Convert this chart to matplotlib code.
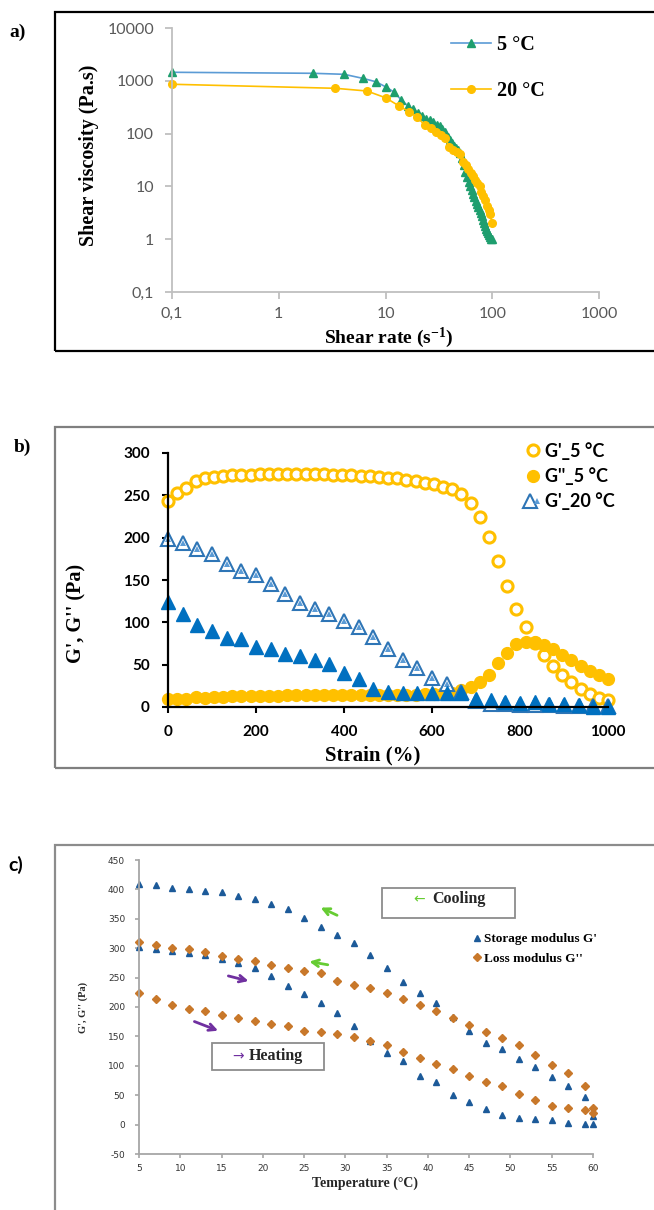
import matplotlib
matplotlib.use('Agg')
import matplotlib.pyplot as plt
from matplotlib.patches import Rectangle
from matplotlib.legend_handler import HandlerTuple
from matplotlib.ticker import NullLocator

# ---- a) flow curves ----
rate_5 = [0.1, 2.1, 4.1, 6.1, 8.1, 10.1, 12.1, 14.1, 16.1, 18.1, 20.1, 22.1, 24.1, 26.1,
          28.1, 30.1, 32.1, 34.1, 36.1, 38.1, 40.1, 42.1, 44.1, 46.1, 48.1, 50.1, 52.1,
          54.1, 56.1, 58.1, 60.1, 62.1, 64.1, 66.1, 68.1, 70.1, 72.1, 74.1, 76.1, 78.1,
          80.1, 82.1, 84.1, 86.1, 88.1, 90.1, 92.1, 94.1, 96.1, 98.1, 100]
visc_5 = [1450, 1387, 1327, 1115, 962, 764, 605, 430, 340, 290, 245, 215, 190, 178,
          165, 148, 138, 122, 105, 88, 75, 66, 59, 53, 48, 42, 34,
          25, 19, 15, 12.3, 10.3, 8.5, 7.3, 6.3, 5.3, 4.6, 4.0, 3.5, 3.1,
          2.7, 2.35, 2.0, 1.78, 1.58, 1.42, 1.3, 1.18, 1.08, 1.02, 1.0]
rate_20 = [0.1, 3.4, 6.7, 10.0, 13.3, 16.6, 19.9, 23.2, 26.5, 29.8, 33.1, 36.4, 39.7,
           43.0, 46.3, 49.6, 52.9, 56.2, 59.5, 62.8, 66.1, 69.4, 72.7, 76.0, 79.3,
           82.6, 85.9, 89.2, 92.5, 95.8, 99.1]
visc_20 = [860, 721, 641, 478, 337, 260, 203, 146, 126, 109, 94, 81, 55,
           49, 45, 41, 29, 25, 21, 18, 16, 13, 11.5, 10, 8,
           6.5, 5.5, 4.3, 3.5, 3.0, 2.0]

# ---- b) strain sweep ----
strain_5 = [0, 21, 42, 63, 83, 104, 125, 146, 167, 188, 208, 229, 250, 271, 292, 313, 333,
            354, 375, 396, 417, 438, 458, 479, 500, 521, 542, 563, 583, 604, 625, 646, 667,
            688, 708, 729, 750, 771, 792, 813, 833, 854, 875, 896, 917, 938, 958, 979, 1000]
gp_5 = [243, 253, 259, 267, 270, 272, 273, 274, 274, 274, 275, 275, 275, 275, 275, 275, 275,
        275, 274, 274, 274, 273, 273, 272, 271, 270, 268, 267, 265, 263, 260, 258, 252,
        241, 224, 201, 173, 143, 116, 95, 76, 61, 48, 38, 29, 21, 15, 11, 8]
gpp_5 = [9, 9, 10, 12, 11, 12, 12, 13, 13, 13, 13, 13, 13, 14, 14, 14, 14,
         14, 14, 14, 14, 14, 14, 14, 14, 14, 14, 14, 15, 15, 16, 17, 20,
         24, 29, 38, 52, 64, 74, 77, 77, 73, 68, 61, 55, 48, 43, 38, 33]
strain_20 = [0, 33, 67, 100, 133, 167, 200, 233, 267, 300, 333, 367, 400, 433, 467, 500,
             533, 567, 600, 633, 667, 700, 733, 767, 800, 833, 867, 900, 933, 967, 1000]
gp_20 = [199, 194, 187, 181, 169, 161, 156, 145, 133, 123, 116, 110, 101, 94, 83, 69,
         56, 46, 34, 27, 18, 7, 4, 3, 2, 2, 2, 1, 1, 1, 1]
gpp_20 = [124, 110, 97, 90, 81, 80, 71, 69, 63, 60, 56, 51, 40, 33, 21, 18,
          16, 16, 17, 16, 16, 9, 8, 6, 5, 6, 3.5, 3, 2.4, 0, 0]

# ---- c) temperature sweep ----
temps = [5, 7, 9, 11, 13, 15, 17, 19, 21, 23, 25, 27, 29, 31, 33, 35, 37, 39, 41, 43,
         45, 47, 49, 51, 53, 55, 57, 59, 60]
gs_cool = [409, 407, 403, 401, 397, 395, 389, 383, 375, 366, 352, 336, 322, 308, 289, 267,
           243, 223, 207, 183, 160, 139, 128, 112, 98, 81, 65, 47, 15]
gs_heat = [302, 299, 296, 292, 288, 282, 275, 267, 253, 236, 222, 207, 189, 167, 142, 122,
           108, 83, 73, 51, 38, 27, 17, 11, 10, 8, 3, 1, 1]
gl_cool = [310, 306, 300, 298, 294, 287, 282, 278, 271, 267, 261, 257, 244, 237, 232, 224,
           214, 204, 193, 182, 170, 157, 147, 135, 118, 102, 87, 65, 28]
gl_heat = [224, 214, 204, 197, 193, 187, 181, 177, 171, 167, 160, 157, 154, 149, 142, 135,
           123, 114, 103, 94, 83, 73, 65, 52, 41, 32, 28, 24, 20]

W, H = 654, 1210
SERIF = 'Liberation Serif'
plt.rcParams['mathtext.fontset'] = 'custom'
plt.rcParams['mathtext.rm'] = 'Liberation Serif:bold'
plt.rcParams['mathtext.default'] = 'rm'
plt.rcParams['axes.unicode_minus'] = False

fig = plt.figure(figsize=(W / 100, H / 100), dpi=100)


def fx(px):
    return px / W


def fy(py):
    return 1 - py / H


def axes_px(left, top, right, bottom):
    return fig.add_axes([left / W, 1 - bottom / H, (right - left) / W, (bottom - top) / H])


# panel frames
fig.add_artist(Rectangle((fx(55), fy(351)), 1, (351 - 12) / H, transform=fig.transFigure,
                         fill=False, ec='black', lw=1.6))
fig.add_artist(Rectangle((fx(55), fy(768)), 1, (768 - 427) / H, transform=fig.transFigure,
                         fill=False, ec='#7f7f7f', lw=1.6))
fig.add_artist(Rectangle((fx(55), -0.1), 1, fy(845) + 0.1, transform=fig.transFigure,
                         fill=False, ec='#8c8c8c', lw=1.6))

fig.text(fx(9), fy(32), 'a)', family=SERIF, weight='bold', size=14, va='center')
fig.text(fx(14), fy(447), 'b)', family=SERIF, weight='bold', size=14, va='center')
fig.text(fx(8), fy(865), 'c)', family='Lato', weight='bold', size=14, va='center')

# ---------------- a ----------------
axa = axes_px(172, 28, 599, 292)
axa.set_xscale('log')
axa.set_yscale('log')
axa.plot(rate_5, visc_5, color='#5b9bd5', lw=1.2, marker='^', ms=6, mfc='#1e9e6e',
         mec='#1e9e6e', clip_on=False, label='5 °C')
axa.plot(rate_20, visc_20, color='#ffc000', lw=1.2, marker='o', ms=5.5, mfc='#ffc000',
         mec='#ffc000', clip_on=False, label='20 °C')
axa.set_xlim(0.1, 1000)
axa.set_ylim(0.1, 10000)
axa.set_xticks([0.1, 1, 10, 100, 1000], ['0,1', '1', '10', '100', '1000'])
axa.set_yticks([0.1, 1, 10, 100, 1000, 10000], ['0,1', '1', '10', '100', '1000', '10000'])
axa.xaxis.set_minor_locator(NullLocator())
axa.yaxis.set_minor_locator(NullLocator())
for s in ['top', 'right']:
    axa.spines[s].set_visible(False)
for s in ['left', 'bottom']:
    axa.spines[s].set_color('#bfbfbf')
    axa.spines[s].set_linewidth(1.3)
axa.tick_params(color='#bfbfbf', labelcolor='#595959', length=5, width=1.3,
                labelsize=11.5, pad=8)
axa.tick_params(axis='x', pad=6)
plt.setp(axa.get_xticklabels() + axa.get_yticklabels(), family='Lato')
axa.set_xlabel('Shear rate (s$^{-1}$)', family=SERIF, weight='bold', size=14, va='center')
axa.xaxis.set_label_coords(0.506, -0.172)
axa.set_ylabel('Shear viscosity (Pa.s)', family=SERIF, weight='bold', size=14.5, va='center')
axa.yaxis.set_label_coords(-0.194, 0.519)
axa.legend(loc='upper left', bbox_to_anchor=(fx(451), fy(35)), bbox_transform=fig.transFigure,
           frameon=False, prop={'family': SERIF, 'weight': 'bold', 'size': 14.5},
           handlelength=2.0, handletextpad=0.3, labelspacing=1.3, borderpad=0,
           borderaxespad=0)

# ---------------- b ----------------
axb = axes_px(168, 453, 608, 707)
l1, = axb.plot(strain_5, gp_5, ls='none', marker='o', ms=8, mfc='white', mec='#ffc000',
               mew=2.2, clip_on=False)
l2, = axb.plot(strain_5, gpp_5, ls='none', marker='o', ms=8.5, color='#ffc000', clip_on=False)
t1, = axb.plot(strain_20, gp_20, ls='none', marker='^', ms=10, mfc='white', mec='#2e75b6',
               mew=1.5, clip_on=False)
t2, = axb.plot(strain_20, gp_20, ls='none', marker='^', ms=4, color='#5b9bd5', mew=0,
               clip_on=False)
axb.plot(strain_20, gpp_20, ls='none', marker='^', ms=9.5, color='#0070c0', clip_on=False)
axb.set_xlim(0, 1000)
axb.set_ylim(0, 300)
axb.set_xticks(range(0, 1001, 200))
axb.set_yticks(range(0, 301, 50))
for s in ['top', 'right']:
    axb.spines[s].set_visible(False)
for s in ['left', 'bottom']:
    axb.spines[s].set_linewidth(1.6)
axb.tick_params(length=4, width=1.5, labelsize=11, pad=9)
plt.setp(axb.get_xticklabels() + axb.get_yticklabels(), family='Lato', weight='bold')
axb.set_xlabel('Strain (%)', family=SERIF, weight='bold', size=15, va='center')
axb.xaxis.set_label_coords(0.466, -0.189)
axb.set_ylabel("G', G'' (Pa)", family=SERIF, weight='bold', size=14.5, va='center')
axb.yaxis.set_label_coords(-0.207, 0.37)
axb.legend([l1, l2, (t1, t2)], ["G'_5 °C", "G''_5 °C", "G'_20 °C"],
           handler_map={tuple: HandlerTuple(ndivide=None)}, numpoints=1,
           loc='upper left', bbox_to_anchor=(fx(526), fy(442)), bbox_transform=fig.transFigure,
           frameon=False, prop={'family': 'Lato', 'weight': 'bold', 'size': 13},
           handlelength=0.8, handletextpad=0.25, labelspacing=0.4, borderpad=0,
           borderaxespad=0)

# ---------------- c ----------------
axc = axes_px(139, 860, 593, 1154)
BLUE = '#1c5a99'
ORANGE = '#c8782a'
s1, = axc.plot(temps, gs_cool, ls='none', marker='^', ms=5, color=BLUE, clip_on=False)
axc.plot(temps, gs_heat, ls='none', marker='^', ms=5, color=BLUE, clip_on=False)
d1, = axc.plot(temps, gl_cool, ls='none', marker='D', ms=3.8, color=ORANGE, clip_on=False)
axc.plot(temps, gl_heat, ls='none', marker='D', ms=3.8, color=ORANGE, clip_on=False)
axc.set_xlim(5, 60)
axc.set_ylim(-50, 450)
axc.set_xticks(range(5, 61, 5))
axc.set_yticks(range(-50, 451, 50))
for s in ['top', 'right']:
    axc.spines[s].set_visible(False)
for s in ['left', 'bottom']:
    axc.spines[s].set_color('#a6a6a6')
    axc.spines[s].set_linewidth(1.3)
axc.tick_params(color='#a6a6a6', labelcolor='#333333', length=3, width=1.2, labelsize=6.5)
axc.tick_params(axis='y', pad=7)
axc.tick_params(axis='x', pad=4)
axc.set_xlabel('Temperature (°C)', family=SERIF, weight='bold', size=10, va='center',
               color='#262626')
axc.xaxis.set_label_coords(0.498, -0.099)
axc.set_ylabel("G', G'' (Pa)", family=SERIF, weight='bold', size=7.5, va='center',
               color='#262626')
axc.yaxis.set_label_coords(-0.123, 0.5)
axc.legend([s1, d1], ["Storage modulus G'", "Loss modulus G''"], numpoints=1,
           loc='upper left', bbox_to_anchor=(fx(473), fy(933)), bbox_transform=fig.transFigure,
           frameon=False, prop={'family': SERIF, 'weight': 'bold', 'size': 9.5},
           handlelength=0.6, handletextpad=0.2, labelspacing=0.55, borderpad=0,
           borderaxespad=0)

# cooling / heating arrows
green = '#66cc33'
purple = '#7030a0'
for tip, tail in [((26.7, 371), (29.3, 354)), ((25.3, 278), (28.2, 271))]:
    axc.annotate('', xy=tip, xytext=tail,
                 arrowprops=dict(arrowstyle='->', color=green, lw=2, mutation_scale=12))
for tip, tail in [((18.6, 243), (15.5, 254)), ((14.9, 158), (11.4, 177))]:
    axc.annotate('', xy=tip, xytext=tail,
                 arrowprops=dict(arrowstyle='->', color=purple, lw=2, mutation_scale=12))

axc.add_patch(Rectangle((0.535, 0.804), 0.293, 0.100, transform=axc.transAxes,
                        fc='white', ec='#8c8c8c', lw=1.3))
axc.text(0.617, 0.867, '←', color=green, family='DejaVu Sans', size=10,
         ha='center', va='center', transform=axc.transAxes)
axc.text(0.645, 0.867, 'Cooling', family=SERIF, weight='bold', size=11.5, color='#262626',
         ha='left', va='center', transform=axc.transAxes)
axc.add_patch(Rectangle((0.161, 0.286), 0.247, 0.093, transform=axc.transAxes,
                        fc='white', ec='#8c8c8c', lw=1.3))
axc.text(0.218, 0.333, '→', color=purple, family='DejaVu Sans', size=10,
         ha='center', va='center', transform=axc.transAxes)
axc.text(0.242, 0.333, 'Heating', family=SERIF, weight='bold', size=11.5, color='#262626',
         ha='left', va='center', transform=axc.transAxes)

fig.savefig('out.png', dpi=100)
